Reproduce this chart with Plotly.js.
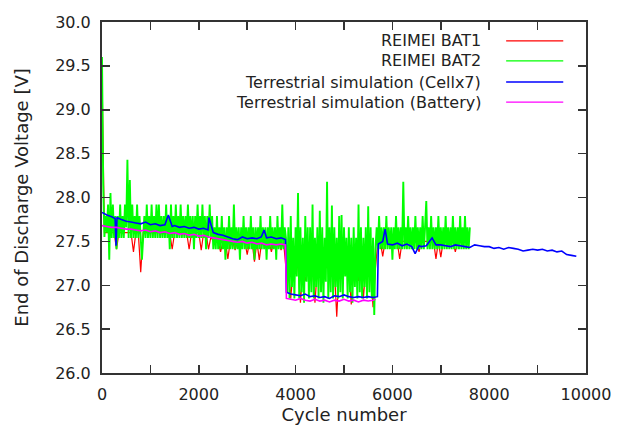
<!DOCTYPE html>
<html>
<head>
<meta charset="utf-8">
<script src="https://cdn.plot.ly/plotly-3.0.1.min.js"></script>
<style>html,body{margin:0;padding:0;background:#fff;}#chart{width:632px;height:431px;}</style>
</head>
<body>
<div id="chart"></div>
<script>
// ---------------- DATA ----------------
const seriesNames = ["REIMEI BAT1", "REIMEI BAT2", "Terrestrial simulation (Cellx7)", "Terrestrial simulation (Battery)"];
const seriesColors = ["#ff0000", "#00ff00", "#0000ff", "#ff00ff"];

// Flight data are sampled at a regular cycle interval
const bat1CycleStep = 50;
const bat1Volts = [
  29.4, 27.6, 27.6, 27.6, 27.6, 27.6, 27.41, 27.6, 27.6, 27.6,
  27.6, 27.6, 27.6, 27.38, 27.6, 27.6, 27.15, 27.6, 27.6, 27.6,
  27.6, 27.6, 27.6, 27.6, 27.6, 27.6, 27.6, 27.6, 27.6, 27.41,
  27.6, 27.6, 27.6, 27.6, 27.6, 27.6, 27.41, 27.6, 27.6, 27.6,
  27.6, 27.4, 27.6, 27.6, 27.41, 27.55, 27.5, 27.5, 27.5, 27.38,
  27.5, 27.5, 27.3, 27.5, 27.5, 27.4, 27.5, 27.5, 27.5, 27.5,
  27.35, 27.5, 27.5, 27.27, 27.5, 27.29, 27.5, 27.5, 27.5, 27.5,
  27.38, 27.5, 27.5, 27.5, 27.4, 27.5, 27.2, 27.2, 26.85, 27.2,
  27.2, 27.2, 26.8, 27.2, 27.05, 27.2, 27.2, 27.2, 26.8, 27.2,
  27.2, 27.05, 27.2, 27.2, 27.2, 27.2, 27.2, 26.64, 27.2, 27.2,
  27.2, 27.2, 27.2, 26.78, 27.2, 27.2, 27.05, 27.2, 26.85, 27.2,
  27.2, 27.2, 26.75, 27.2, 27.5, 27.5, 27.33, 27.5, 27.5, 27.5,
  27.5, 27.5, 27.5, 27.3, 27.5, 27.5, 27.5, 27.5, 27.5, 27.5,
  27.5, 27.38, 27.5, 27.5, 27.5, 27.5, 27.5, 27.5, 27.3, 27.5,
  27.32, 27.5, 27.5, 27.5, 27.5, 27.5, 27.38, 27.5, 27.5, 27.5,
  27.5, 27.5, 27.5
];

const bat2CycleStep = 25;
const bat2Volts = [
  29.6, 28.15, 27.55, 27.79, 27.6, 27.92, 27.29, 28.05, 27.54, 27.92,
  27.54, 27.79, 27.41, 27.79, 27.54, 27.92, 27.54, 27.79, 27.54, 27.92,
  27.66, 28.43, 27.54, 28.2, 27.54, 27.92, 27.54, 27.79, 27.54, 27.92,
  27.54, 27.79, 27.54, 27.29, 27.54, 27.79, 27.54, 27.92, 27.54, 27.79,
  27.54, 27.92, 27.54, 27.79, 27.54, 27.92, 27.54, 27.92, 27.54, 27.79,
  27.54, 27.79, 27.54, 27.92, 27.54, 27.79, 27.41, 27.92, 27.54, 27.79,
  27.54, 27.92, 27.54, 27.79, 27.54, 27.92, 27.54, 27.79, 27.54, 27.79,
  27.54, 27.92, 27.54, 27.79, 27.54, 27.79, 27.41, 27.79, 27.54, 27.92,
  27.54, 27.79, 27.54, 27.92, 27.54, 27.79, 27.41, 27.79, 27.54, 27.92,
  27.54, 27.79,
  27.41, 27.66, 27.41, 27.79, 27.41, 27.66, 27.41, 27.79, 27.41, 27.66,
  27.29, 27.66, 27.41, 27.79, 27.41, 27.66, 27.41, 27.92, 27.41, 27.66,
  27.41, 27.66, 27.29, 27.66, 27.41, 27.79, 27.41, 27.66, 27.41, 27.66,
  27.41, 27.79, 27.41, 27.66, 27.29, 27.66, 27.41, 27.66, 27.41, 27.79,
  27.41, 27.66, 27.41, 27.66, 27.29, 27.66, 27.41, 27.79, 27.41, 27.66,
  27.41, 27.66, 27.29, 27.79, 27.41, 27.66, 27.41, 27.92, 27.41, 27.66,
  27.54, 26.92, 27.66, 26.85, 27.79, 26.98, 27.54, 26.85, 27.66, 27.1,
  28.05, 26.85, 27.66, 26.92, 27.54, 26.8, 27.79, 27.04, 27.66, 26.85,
  27.66, 26.92, 27.92, 26.85, 27.54, 26.98, 27.66, 26.85, 27.85, 26.92,
  27.66, 26.8, 27.54, 27.04, 28.18, 26.85, 27.66, 26.92, 27.91, 26.85,
  27.66, 26.98, 27.54, 26.85, 27.79, 26.92, 27.8, 26.85, 27.66, 27.1,
  27.54, 26.85, 27.66, 26.92, 27.54, 26.8, 27.66, 26.98, 27.54, 26.85,
  27.92, 26.92, 27.66, 26.85, 27.54, 26.98, 27.66, 26.85, 27.9, 26.92,
  27.66, 26.85, 27.54, 26.66, 27.41,
  27.66, 27.41, 27.79, 27.41, 27.66, 27.41, 27.66, 27.41, 27.79, 27.41,
  27.66, 27.41, 27.66, 27.29, 27.66, 27.41, 27.79, 27.41, 27.66, 27.41,
  27.66, 27.41, 28.18, 27.41, 27.66, 27.41, 27.79, 27.41, 27.66, 27.41,
  27.66, 27.41, 27.79, 27.41, 27.66, 27.41, 27.66, 27.41, 27.79, 27.41,
  27.66, 27.96, 27.41, 27.66, 27.41, 27.79, 27.41, 27.66, 27.41, 27.66,
  27.41, 27.79, 27.41, 27.66, 27.41, 27.66, 27.41, 27.79, 27.41, 27.66,
  27.41, 27.66, 27.41, 27.79, 27.41, 27.66, 27.41, 27.66, 27.41, 27.79,
  27.41, 27.66, 27.41, 27.79, 27.41, 27.66, 27.41, 27.66
];

const cellCycles = [
  0, 100, 200, 270, 290, 310, 400, 500, 600, 700,
  800, 900, 1000, 1100, 1200, 1300, 1370, 1450, 1500, 1600,
  1700, 1800, 1900, 2000, 2100, 2190, 2210, 2300, 2400, 2500,
  2600, 2700, 2800, 2900, 3000, 3100, 3200, 3290, 3350, 3400,
  3500, 3600, 3700, 3790, 3810, 3900, 4000, 4100, 4200, 4300,
  4400, 4500, 4600, 4700, 4800, 4900, 5000, 5100, 5200, 5300,
  5400, 5500, 5600, 5690, 5710, 5800, 5850, 5900, 6000, 6100,
  6200, 6300, 6400, 6470, 6550, 6600, 6700, 6820, 6900, 7000,
  7100, 7200, 7300, 7400, 7500, 7600, 7700, 7800, 7900, 8000,
  8100, 8200, 8300, 8400, 8500, 8600, 8700, 8800, 8900, 9000,
  9100, 9200, 9300, 9400, 9500, 9600, 9700, 9800
];
const cellVolts = [
  27.83, 27.80, 27.78, 27.76, 27.45, 27.77, 27.75, 27.73, 27.72, 27.71,
  27.70, 27.72, 27.69, 27.70, 27.68, 27.69, 27.80, 27.67, 27.68, 27.66,
  27.67, 27.65, 27.66, 27.64, 27.65, 27.63, 27.77, 27.60, 27.58, 27.57,
  27.55, 27.53, 27.52, 27.55, 27.53, 27.54, 27.53, 27.55, 27.63, 27.54,
  27.55, 27.53, 27.54, 27.52, 26.92, 26.90, 26.89, 26.88, 26.90, 26.87,
  26.88, 26.86, 26.87, 26.85, 26.88, 26.87, 26.89, 26.87, 26.86, 26.87,
  26.86, 26.87, 26.86, 26.87, 27.47, 27.50, 27.64, 27.47, 27.46, 27.48,
  27.45, 27.47, 27.44, 27.36, 27.45, 27.44, 27.45, 27.54, 27.46, 27.46,
  27.45, 27.44, 27.46, 27.45, 27.44, 27.43, 27.46, 27.45, 27.44, 27.44,
  27.42, 27.43, 27.41, 27.43, 27.42, 27.41, 27.39, 27.40, 27.41, 27.40,
  27.41, 27.39, 27.40, 27.38, 27.39, 27.35, 27.34, 27.33
];

const batteryCycles = [
  0, 100, 200, 300, 400, 500, 600, 700, 800, 900,
  1000, 1100, 1200, 1300, 1400, 1500, 1600, 1700, 1800, 1900,
  2000, 2100, 2200, 2300, 2400, 2500, 2600, 2700, 2800, 2900,
  3000, 3100, 3200, 3300, 3400, 3500, 3600, 3700, 3790, 3810,
  3900, 4000, 4100, 4200, 4300, 4400, 4500, 4600, 4700, 4800,
  4900, 5000, 5100, 5200, 5300, 5400, 5500, 5600, 5650
];
const batteryVolts = [
  27.68, 27.67, 27.66, 27.66, 27.65, 27.64, 27.64, 27.63, 27.62, 27.63,
  27.61, 27.62, 27.60, 27.61, 27.59, 27.60, 27.58, 27.59, 27.57, 27.58,
  27.56, 27.57, 27.55, 27.54, 27.53, 27.52, 27.51, 27.50, 27.49, 27.50,
  27.48, 27.49, 27.47, 27.48, 27.46, 27.47, 27.46, 27.47, 27.46, 26.85,
  26.84, 26.83, 26.85, 26.83, 26.82, 26.84, 26.82, 26.83, 26.81, 26.83,
  26.82, 26.84, 26.82, 26.83, 26.81, 26.83, 26.82, 26.83, 26.84
];

const xTickVals = [0, 1000, 2000, 3000, 4000, 5000, 6000, 7000, 8000, 9000, 10000];
const xTickText = ["0", "", "2000", "", "4000", "", "6000", "", "8000", "", "10000"];
const yTickVals = [26, 26.5, 27, 27.5, 28, 28.5, 29, 29.5, 30];
const yTickText = ["26.0", "26.5", "27.0", "27.5", "28.0", "28.5", "29.0", "29.5", "30.0"];

const xAxisTitle = "Cycle number";
const yAxisTitle = "End of Discharge Voltage [V]";

// ---------------- CHART ----------------
const bat1Cycles = bat1Volts.map((_, i) => i * bat1CycleStep);
const bat2Cycles = bat2Volts.map((_, i) => i * bat2CycleStep);

const traces = [
  {x: bat1Cycles, y: bat1Volts, name: seriesNames[0], mode: "lines", line: {color: seriesColors[0], width: 1.2, simplify: false}},
  {x: bat2Cycles, y: bat2Volts, name: seriesNames[1], mode: "lines", line: {color: seriesColors[1], width: 1.9, simplify: false}},
  {x: cellCycles, y: cellVolts, name: seriesNames[2], mode: "lines", line: {color: seriesColors[2], width: 1.6, simplify: false}},
  {x: batteryCycles, y: batteryVolts, name: seriesNames[3], mode: "lines", line: {color: seriesColors[3], width: 1.6, simplify: false}}
];

// gnuplot-style key: right-aligned text followed by a line sample
const keyTextX = 0.787, keyLineX0 = 0.835, keyLineX1 = 0.953;
const keyRowsY = [0.946, 0.889, 0.829, 0.772];
const annotations = seriesNames.map((n, i) => ({
  xref: "paper", yref: "paper", x: keyTextX, y: keyRowsY[i],
  xanchor: "right", yanchor: "middle", text: n, showarrow: false,
  font: {family: "DejaVu Sans, sans-serif", size: 16, color: "#222"}
}));
const shapes = seriesNames.map((n, i) => ({
  type: "line", xref: "paper", yref: "paper",
  x0: keyLineX0, x1: keyLineX1, y0: keyRowsY[i], y1: keyRowsY[i],
  line: {color: seriesColors[i], width: 1.3}
}));

const axisCommon = {
  ticks: "inside", ticklen: 8, tickwidth: 1.5, tickcolor: "#333",
  showline: true, linecolor: "#333", linewidth: 2, mirror: "ticks",
  showgrid: false, zeroline: false, automargin: false,
  tickfont: {family: "DejaVu Sans, sans-serif", size: 16, color: "#222"}
};

const layout = {
  width: 632, height: 431,
  margin: {l: 102, r: 46, t: 22, b: 58},
  paper_bgcolor: "#fff", plot_bgcolor: "#fff",
  font: {family: "DejaVu Sans, sans-serif", size: 16, color: "#222"},
  showlegend: false,
  annotations: annotations,
  shapes: shapes,
  xaxis: Object.assign({}, axisCommon, {
    range: [0, 10000], tickmode: "array", tickvals: xTickVals, ticktext: xTickText,
    ticklabelstandoff: 6,
    title: {text: xAxisTitle, font: {family: "DejaVu Sans, sans-serif", size: 18, color: "#222"}, standoff: 3}
  }),
  yaxis: Object.assign({}, axisCommon, {
    range: [26, 30], tickmode: "array", tickvals: yTickVals, ticktext: yTickText,
    ticklabelstandoff: 6,
    title: {text: yAxisTitle, font: {family: "DejaVu Sans, sans-serif", size: 18, color: "#222"}, standoff: 22}
  })
};

Plotly.newPlot("chart", traces, layout, {displayModeBar: false, staticPlot: true});
</script>
</body>
</html>
